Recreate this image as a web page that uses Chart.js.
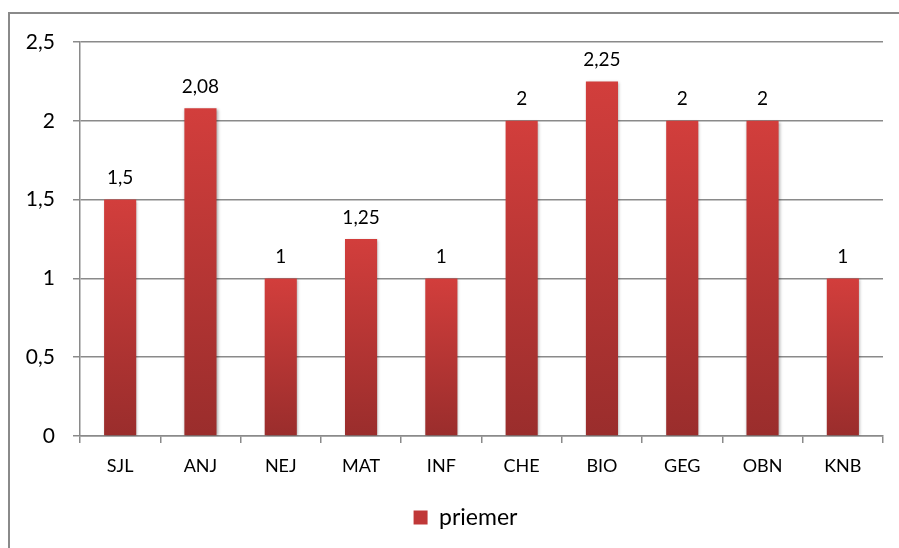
<!DOCTYPE html>
<html>
<head>
<meta charset="utf-8">
<script src="https://cdn.jsdelivr.net/npm/chart.js@4"></script>
<style>
    html, body { margin: 0; padding: 0; background: #fff; }
    #wrap { width: 899px; height: 548px; position: relative; }
</style>
</head>
<body>
<div id="wrap"><canvas id="chart"></canvas></div>
<script>
// Data
const categories = ['SJL', 'ANJ', 'NEJ', 'MAT', 'INF', 'CHE', 'BIO', 'GEG', 'OBN', 'KNB'];
const priemer = [1.5, 2.08, 1, 1.25, 1, 2, 2.25, 2, 2, 1];
const yTicks = [0, 0.5, 1, 1.5, 2, 2.5];
const seriesName = 'priemer';

const FONT = 'Lato, "Open Sans", sans-serif';

function fmt(v) {
    return String(v).replace('.', ',');
}

// Outer frame of the chart object
const framePlugin = {
    id: 'frame',
    beforeDraw(chart) {
        const ctx = chart.ctx;
        ctx.save();
        ctx.fillStyle = '#fff';
        ctx.fillRect(0, 0, chart.width, chart.height);
        ctx.strokeStyle = '#8a8a8a';
        ctx.lineWidth = 2;
        ctx.strokeRect(9, 13, chart.width, chart.height);
        ctx.restore();
    }
};

// The legend sits centred on the (wider, cropped) chart object, a bit right of canvas centre
const legendShiftPlugin = {
    id: 'legendShift',
    afterLayout(chart) {
        if (chart.legend) {
            chart.legend.left += 24;
            chart.legend.right += 24;
        }
    }
};

// Soft shadow behind the bars
const shadowPlugin = {
    id: 'barShadow',
    beforeDatasetsDraw(chart) {
        const ctx = chart.ctx;
        ctx.save();
        ctx.shadowColor = 'rgba(0,0,0,0.35)';
        ctx.shadowBlur = 3;
        ctx.shadowOffsetX = 1;
        ctx.shadowOffsetY = 1;
    },
    afterDatasetsDraw(chart) {
        chart.ctx.restore();
    }
};

// Value labels above the bars
const labelPlugin = {
    id: 'valueLabels',
    afterDatasetsDraw(chart) {
        const ctx = chart.ctx;
        const meta = chart.getDatasetMeta(0);
        ctx.save();
        ctx.fillStyle = '#000';
        ctx.font = '19px ' + FONT;
        ctx.textAlign = 'center';
        ctx.textBaseline = 'bottom';
        meta.data.forEach((bar, i) => {
            ctx.fillText(fmt(priemer[i]), bar.x, bar.y - 12);
        });
        ctx.restore();
    }
};

const ctx = document.getElementById('chart').getContext('2d');
new Chart(ctx, {
    type: 'bar',
    data: {
        labels: categories,
        datasets: [{
            label: seriesName,
            data: priemer,
            backgroundColor: function (context) {
                const chart = context.chart;
                if (!chart.chartArea) return '#c03838';
                if (context.type !== 'data') return '#c03838';
                const y = chart.scales.y;
                const top = y.getPixelForValue(context.parsed.y);
                const bottom = y.getPixelForValue(0);
                const g = chart.ctx.createLinearGradient(0, top, 0, bottom);
                g.addColorStop(0, '#d23e3c');
                g.addColorStop(1, '#9a2d2c');
                return g;
            },
            borderWidth: 0,
            barPercentage: 0.4,
            categoryPercentage: 1
        }]
    },
    options: {
        responsive: true,
        maintainAspectRatio: false,
        animation: false,
        layout: {
            padding: { left: 0, right: 16, top: 42, bottom: 9 }
        },
        scales: {
            x: {
                offset: true,
                grid: {
                    offset: true,
                    drawOnChartArea: false,
                    drawTicks: true,
                    tickLength: 7,
                    color: '#8a8a8a',
                    lineWidth: 1.5
                },
                border: { display: true, color: '#8a8a8a', width: 1.5 },
                ticks: {
                    color: '#000',
                    padding: 12,
                    font: { family: FONT, size: 18 }
                },
                afterFit(scale) { scale.height = 60; }
            },
            y: {
                min: 0,
                max: 2.5,
                afterBuildTicks(scale) {
                    scale.ticks = yTicks.map(v => ({ value: v }));
                },
                grid: {
                    color: '#8a8a8a',
                    lineWidth: 1.5,
                    tickLength: 7
                },
                border: { display: true, color: '#8a8a8a', width: 1.5 },
                ticks: {
                    color: '#000',
                    padding: 18,
                    font: { family: FONT, size: 21 },
                    callback: function (value) { return fmt(value); }
                },
                afterFit(scale) { scale.width = 80; }
            }
        },
        plugins: {
            legend: {
                position: 'bottom',
                labels: {
                    color: '#000',
                    boxWidth: 14,
                    boxHeight: 14,
                    padding: 10,
                    font: { family: FONT, size: 23 },
                    generateLabels: function () {
                        return [{
                            text: seriesName,
                            fillStyle: '#c03838',
                            strokeStyle: '#c03838',
                            lineWidth: 0,
                            datasetIndex: 0
                        }];
                    }
                }
            },
            tooltip: { enabled: false }
        }
    },
    plugins: [framePlugin, legendShiftPlugin, shadowPlugin, labelPlugin]
});
</script>
</body>
</html>
